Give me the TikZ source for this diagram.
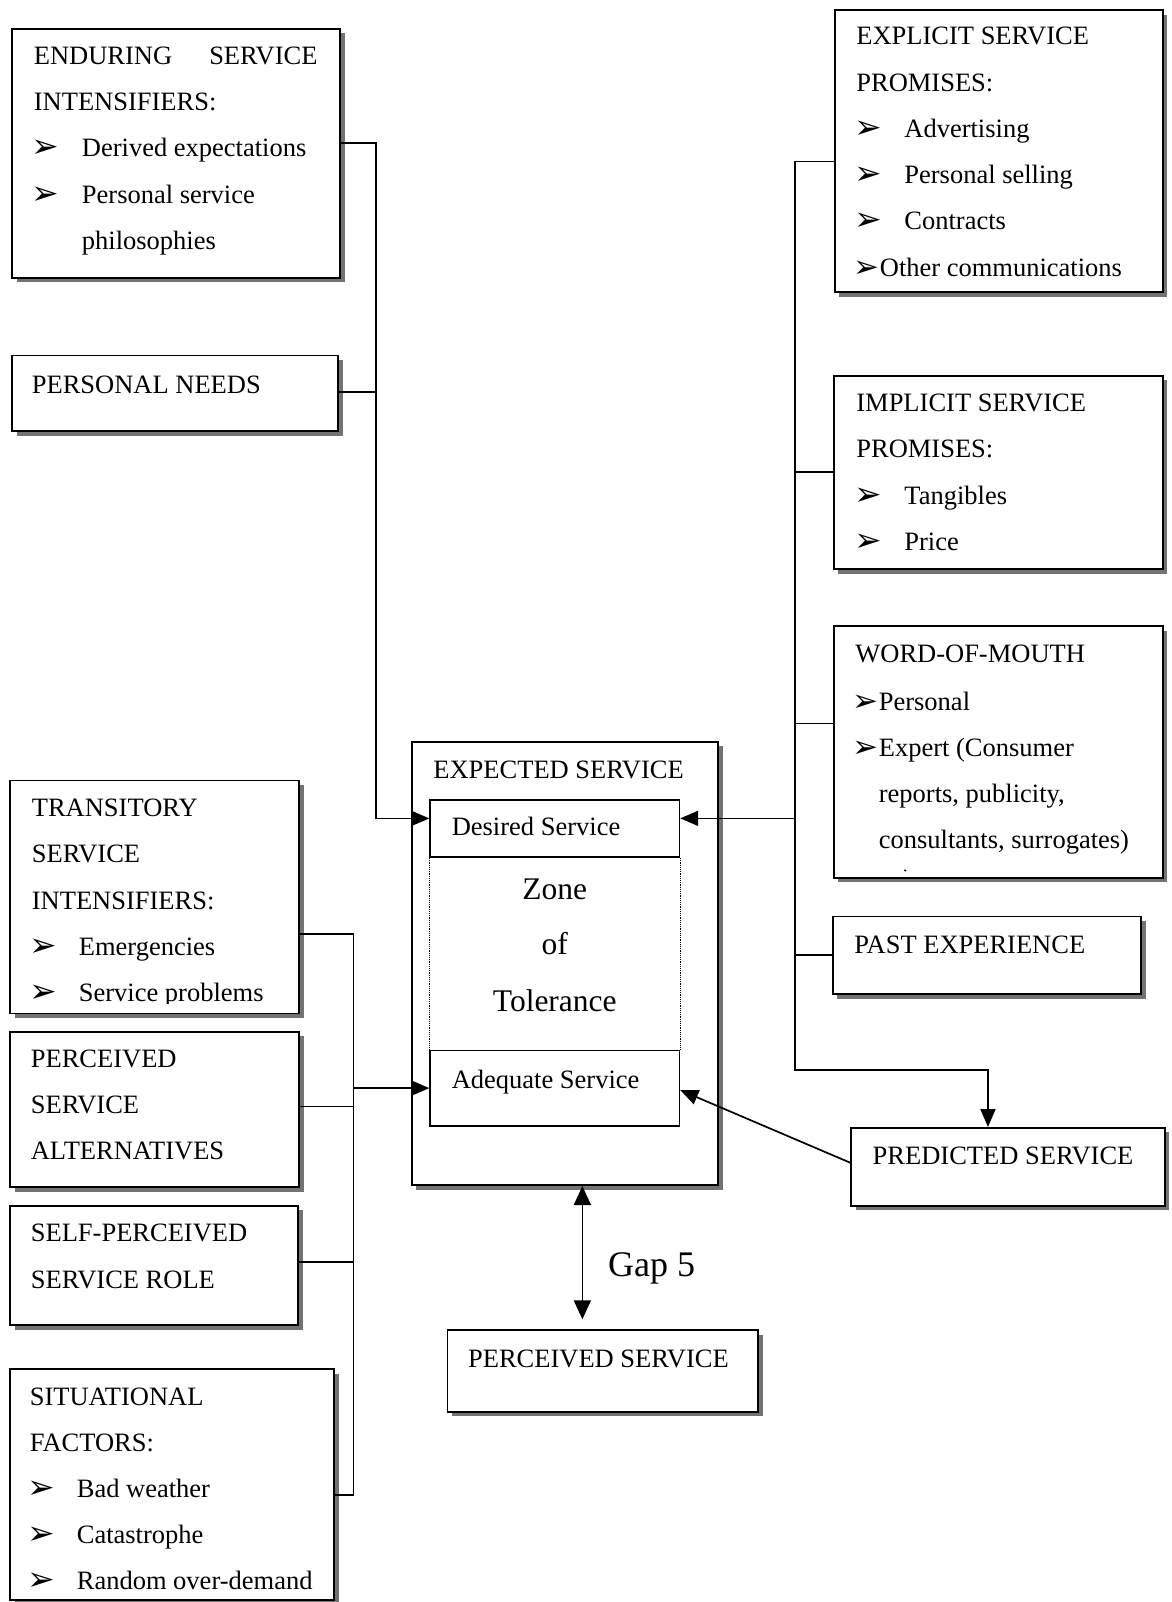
\documentclass[tikz,border=0pt]{standalone}
\usepackage{fontspec}
\setmainfont{Liberation Serif}
\newfontfamily\dingfont{DejaVu Sans}
\usetikzlibrary{arrows.meta,shadows,fit}
\newcommand\arrbullet{{\dingfont\fontsize{33}{33}\selectfont ➢}}
\newcommand\tightbullet{{\dingfont\fontsize{31}{31}\selectfont ➢}}

\begin{document}
\begin{tikzpicture}[x=1.0218pt,y=-1.0218pt,
  panel/.style={draw=black,line width=1.8pt,fill=white,inner sep=0pt,
    drop shadow={shadow xshift=4.5pt,shadow yshift=-4.5pt,fill=black!55,opacity=1}},
  plainbox/.style={draw=black,line width=1.6pt,fill=white,inner sep=0pt},
  txt/.style={anchor=base west,inner sep=0pt,font=\fontsize{26.5}{30}\selectfont},
  bul/.style={anchor=base west,inner sep=0pt,yshift=-1pt},
  bigtxt/.style={anchor=base,inner sep=0pt,font=\fontsize{31.5}{36}\selectfont},
  conn/.style={line width=1.7pt,draw=black},
  tip/.style={-{Triangle[length=18pt,width=15pt]}},
]
\useasboundingbox (0,0) rectangle (1147,1568);
\fill[white] (0,0) rectangle (1147,1568);

% ---------- boxes ----------
\node[panel,fit={(12,28) (333,272)}] (enduring) {};
\node[panel,fit={(12,348) (331,422)}] (pneeds) {};
\node[panel,fit={(817,10) (1138,286)}] (explicit) {};
\node[panel,fit={(816,368) (1138,557)}] (implicit) {};
\node[panel,fit={(816,613) (1138,859)}] (wom) {};
\node[panel,fit={(815,897) (1117,973)}] (past) {};
\node[panel,fit={(833,1104) (1140,1180)}] (predicted) {};
\node[panel,fit={(403,726) (703,1160)}] (expected) {};
\node[panel,fit={(438,1302) (742,1382)}] (perceived) {};
\node[panel,fit={(10,764) (293,992)}] (transitory) {};
\node[panel,fit={(10,1010) (293,1162)}] (alternatives) {};
\node[panel,fit={(10,1180) (292,1297)}] (selfrole) {};
\node[panel,fit={(10,1340) (327,1566)}] (situational) {};

% inner boxes of the expected service
\node[plainbox,fit={(421,783) (665,839)}] (desired) {};
\node[plainbox,fit={(421,1028) (665,1102)}] (adequate) {};
\draw[line width=1.2pt,densely dotted] (desired.south west) -- (adequate.north west);
\draw[line width=1.2pt,densely dotted] (desired.south east) -- (adequate.north east);

% ---------- texts ----------
% enduring service intensifiers
\node[txt] (en1) at (33,63) {ENDURING};
\node[txt,anchor=base east] (en1b) at (311,63) {SERVICE};
\node[txt] (en2) at (33,108) {INTENSIFIERS:};
\node[bul] (en3a) at (31,153) {\arrbullet};
\node[txt] (en3) at (80,153) {Derived expectations};
\node[bul] (en4a) at (31,199) {\arrbullet};
\node[txt] (en4) at (80,199) {Personal service};
\node[txt] (en5) at (80,244) {philosophies};
% personal needs
\node[txt] (pn1) at (31,385) {PERSONAL NEEDS};
% explicit promises
\node[txt] (ex1) at (838,44) {EXPLICIT SERVICE};
\node[txt] (ex2) at (838,90) {PROMISES:};
\node[bul] (ex3a) at (836,135) {\arrbullet};
\node[txt] (ex3) at (885,135) {Advertising};
\node[bul] (ex4a) at (836,180) {\arrbullet};
\node[txt] (ex4) at (885,180) {Personal selling};
\node[bul] (ex5a) at (836,225) {\arrbullet};
\node[txt] (ex5) at (885,225) {Contracts};
\node[bul] (ex6a) at (835,271) {\tightbullet};
\node[txt] (ex6) at (861,271) {Other communications};
% implicit promises
\node[txt] (im1) at (838,403) {IMPLICIT SERVICE};
\node[txt] (im2) at (838,448) {PROMISES:};
\node[bul] (im3a) at (836,494) {\arrbullet};
\node[txt] (im3) at (885,494) {Tangibles};
\node[bul] (im4a) at (836,539) {\arrbullet};
\node[txt] (im4) at (885,539) {Price};
% word of mouth
\node[txt] (wm1) at (837,648) {WORD-OF-MOUTH};
\node[bul] (wm2a) at (834,695) {\tightbullet};
\node[txt] (wm2) at (860,695) {Personal};
\node[bul] (wm3a) at (834,740) {\tightbullet};
\node[txt] (wm3) at (860,740) {Expert (Consumer};
\node[txt] (wm4) at (860,785) {reports, publicity,};
\node[txt] (wm5) at (860,830) {consultants, surrogates)};
\fill (886,852) circle (1.2);
% past experience, predicted service
\node[txt] (pe1) at (836,933) {PAST EXPERIENCE};
\node[txt] (ps1) at (854,1140) {PREDICTED SERVICE};
% expected service
\node[txt] (es1) at (424,762) {EXPECTED SERVICE};
\node[txt] (ds1) at (442,818) {Desired Service};
\node[bigtxt] (zt1) at (543,880) {Zone};
\node[bigtxt] (zt2) at (543,934) {of};
\node[bigtxt] (zt3) at (543,990) {Tolerance};
\node[txt] (as1) at (442,1065) {Adequate Service};
% perceived service and the gap
\node[txt] (pv1) at (458,1338) {PERCEIVED SERVICE};
\node[anchor=base west,inner sep=0pt,font=\fontsize{36}{40}\selectfont] (gap) at (595,1249) {Gap 5};
% transitory service intensifiers
\begin{scope}
\clip (10,764) rectangle (293,982);
\node[txt] (tr1) at (31,799) {TRANSITORY};
\node[txt] (tr2) at (31,844) {SERVICE};
\node[txt] (tr3) at (31,890) {INTENSIFIERS:};
\node[bul] (tr4a) at (29,935) {\arrbullet};
\node[txt] (tr4) at (77,935) {Emergencies};
\node[bul] (tr5a) at (29,980) {\arrbullet};
\node[txt] (tr5) at (77,980) {Service problems};
\end{scope}
% perceived service alternatives
\node[txt] (al1) at (30,1045) {PERCEIVED};
\node[txt] (al2) at (30,1090) {SERVICE};
\node[txt] (al3) at (30,1135) {ALTERNATIVES};
% self-perceived service role
\node[txt] (sr1) at (30,1215) {SELF-PERCEIVED};
\node[txt] (sr2) at (30,1261) {SERVICE ROLE};
% situational factors
\node[txt] (sf1) at (29,1376) {SITUATIONAL};
\node[txt] (sf2) at (29,1421) {FACTORS:};
\node[bul] (sf3a) at (27,1466) {\arrbullet};
\node[txt] (sf3) at (75,1466) {Bad weather};
\node[bul] (sf4a) at (27,1511) {\arrbullet};
\node[txt] (sf4) at (75,1511) {Catastrophe};
\node[bul] (sf5a) at (27,1556) {\arrbullet};
\node[txt] (sf5) at (75,1556) {Random over-demand};

% ---------- connectors ----------
% upper left: enduring intensifiers and personal needs -> desired service
\coordinate (ltA) at (368,140);
\coordinate (ltN) at (368,384);
\coordinate (ltB) at (368,801);
\draw[conn,tip] (enduring.east |- ltA) -- (ltA) -- (ltB) -- (desired.west |- ltB);
\draw[conn] (pneeds.east |- ltN) -- (ltN);

% right trunk: promises, word of mouth, past experience
\coordinate (rtA) at (778,158);
\coordinate (rtI) at (778,462);
\coordinate (rtW) at (778,708);
\coordinate (rtD) at (778,801);
\coordinate (rtP) at (778,935);
\coordinate (rtB) at (778,1047);
\coordinate (rtC) at (967,1047);
\draw[conn,tip] (explicit.west |- rtA) -- (rtA) -- (rtB) -- (rtC) -- (rtC |- predicted.north);
\draw[conn] (implicit.west |- rtI) -- (rtI);
\draw[conn] (wom.west |- rtW) -- (rtW);
\draw[conn] (past.west |- rtP) -- (rtP);
\draw[conn,tip] (rtD) -- (desired.east |- rtD);

% lower left trunk -> adequate service
\coordinate (lbA) at (346,914);
\coordinate (lbAd) at (346,1065);
\coordinate (lbAl) at (346,1083);
\coordinate (lbS) at (346,1235);
\coordinate (lbB) at (346,1463);
\draw[conn] (transitory.east |- lbA) -- (lbA) -- (lbB) -- (situational.east |- lbB);
\draw[conn] (alternatives.east |- lbAl) -- (lbAl);
\draw[conn] (selfrole.east |- lbS) -- (lbS);
\draw[conn,tip] (lbAd) -- (adequate.west |- lbAd);

% predicted service -> adequate service
\coordinate (prL) at (833,1138);
\coordinate (adR) at (665,1067);
\draw[conn,tip] (predicted.west |- prL) -- (adequate.east |- adR);

% gap 5
\coordinate (gx) at (570,0);
\draw[conn,{Triangle[length=19pt,width=17pt]}-{Triangle[length=19pt,width=17pt]},shorten >=10pt]
  (expected.south -| gx) -- (perceived.north -| gx);
\end{tikzpicture}
\end{document}
